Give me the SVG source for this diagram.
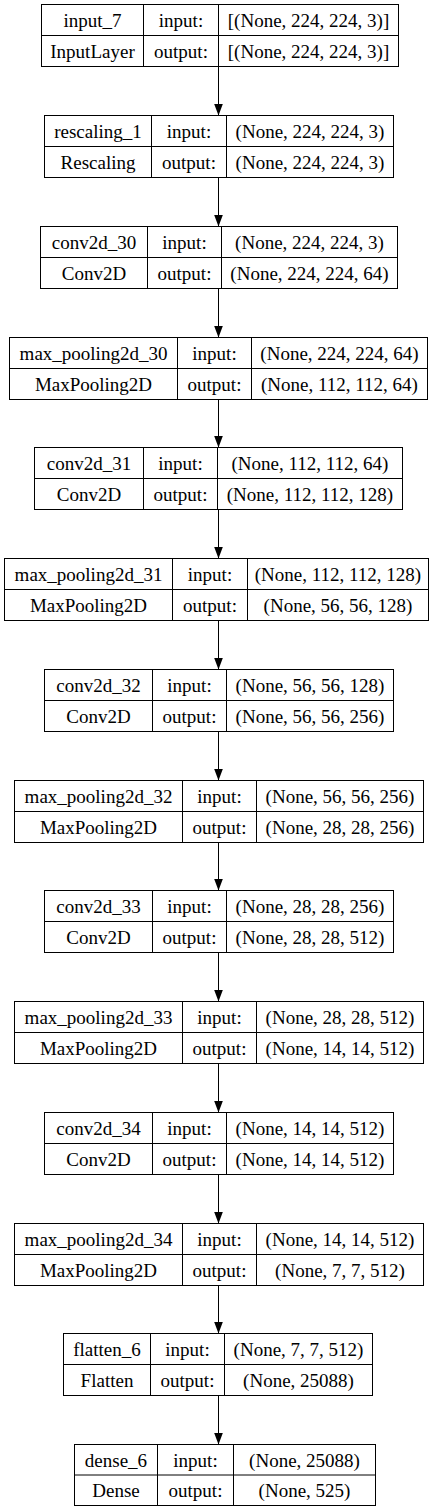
<svg xmlns="http://www.w3.org/2000/svg" width="437" height="1512" viewBox="0 0 437 1512">
<style>
rect.b{fill:#fff;stroke:#000;stroke-width:1}
line.d{stroke:#000;stroke-width:1}
text{font-family:"Liberation Serif","Times New Roman",serif;font-size:19px;fill:#000;text-anchor:middle}
.c line{stroke:#000;stroke-width:1}
</style>
<defs>
<marker id="ah" markerUnits="userSpaceOnUse" markerWidth="12" markerHeight="10" refX="12" refY="4.5" orient="auto">
<path d="M0,0 L12,4.5 L0,9 z" fill="#000"/>
</marker>
</defs>
<rect width="437" height="1512" fill="#fff"/>
<g id="connectors" class="c">
<line x1="218.5" y1="66.5" x2="218.5" y2="115.5" marker-end="url(#ah)"/>
<line x1="218.5" y1="177.5" x2="218.5" y2="226.5" marker-end="url(#ah)"/>
<line x1="218.5" y1="288.5" x2="218.5" y2="337.5" marker-end="url(#ah)"/>
<line x1="218.5" y1="399.5" x2="218.5" y2="447.5" marker-end="url(#ah)"/>
<line x1="218.5" y1="509.5" x2="218.5" y2="558.5" marker-end="url(#ah)"/>
<line x1="218.5" y1="620.5" x2="218.5" y2="669.5" marker-end="url(#ah)"/>
<line x1="218.5" y1="731.5" x2="218.5" y2="780.5" marker-end="url(#ah)"/>
<line x1="218.5" y1="842.5" x2="218.5" y2="890.5" marker-end="url(#ah)"/>
<line x1="218.5" y1="952.5" x2="218.5" y2="1001.5" marker-end="url(#ah)"/>
<line x1="218.5" y1="1063.5" x2="218.5" y2="1112.5" marker-end="url(#ah)"/>
<line x1="218.5" y1="1174.5" x2="218.5" y2="1223.5" marker-end="url(#ah)"/>
<line x1="218.5" y1="1285.5" x2="218.5" y2="1333.5" marker-end="url(#ah)"/>
<line x1="218.5" y1="1395.5" x2="218.5" y2="1444.5" marker-end="url(#ah)"/>
</g>
<g id="input_7" transform="translate(0,4.5)">
<rect class="b" x="41.5" y="0" width="357" height="62"/>
<line class="d" x1="41.5" y1="31" x2="398.5" y2="31"/>
<line class="d" x1="143.5" y1="0" x2="143.5" y2="62"/>
<line class="d" x1="218.5" y1="0" x2="218.5" y2="62"/>
<text x="92.5" y="22">input_7</text><text x="92.5" y="53">InputLayer</text>
<text x="181" y="22">input:</text><text x="181" y="53">output:</text>
<text x="308.5" y="22">[(None, 224, 224, 3)]</text><text x="308.5" y="53">[(None, 224, 224, 3)]</text>
</g>
<g id="rescaling_1" transform="translate(0,115.5)">
<rect class="b" x="44.5" y="0" width="349" height="62"/>
<line class="d" x1="44.5" y1="31" x2="393.5" y2="31"/>
<line class="d" x1="151.5" y1="0" x2="151.5" y2="62"/>
<line class="d" x1="226.5" y1="0" x2="226.5" y2="62"/>
<text x="98" y="22">rescaling_1</text><text x="98" y="53">Rescaling</text>
<text x="189" y="22">input:</text><text x="189" y="53">output:</text>
<text x="310" y="22">(None, 224, 224, 3)</text><text x="310" y="53">(None, 224, 224, 3)</text>
</g>
<g id="conv2d_30" transform="translate(0,226.5)">
<rect class="b" x="40.5" y="0" width="357" height="62"/>
<line class="d" x1="40.5" y1="31" x2="397.5" y2="31"/>
<line class="d" x1="147.5" y1="0" x2="147.5" y2="62"/>
<line class="d" x1="221.5" y1="0" x2="221.5" y2="62"/>
<text x="94" y="22">conv2d_30</text><text x="94" y="53">Conv2D</text>
<text x="184.5" y="22">input:</text><text x="184.5" y="53">output:</text>
<text x="309.5" y="22">(None, 224, 224, 3)</text><text x="309.5" y="53">(None, 224, 224, 64)</text>
</g>
<g id="max_pooling2d_30" transform="translate(0,337.5)">
<rect class="b" x="9.5" y="0" width="418" height="62"/>
<line class="d" x1="9.5" y1="31" x2="427.5" y2="31"/>
<line class="d" x1="177.5" y1="0" x2="177.5" y2="62"/>
<line class="d" x1="251.5" y1="0" x2="251.5" y2="62"/>
<text x="93.5" y="22">max_pooling2d_30</text><text x="93.5" y="53">MaxPooling2D</text>
<text x="214.5" y="22">input:</text><text x="214.5" y="53">output:</text>
<text x="339.5" y="22">(None, 224, 224, 64)</text><text x="339.5" y="53">(None, 112, 112, 64)</text>
</g>
<g id="conv2d_31" transform="translate(0,447.5)">
<rect class="b" x="34.5" y="0" width="368" height="62"/>
<line class="d" x1="34.5" y1="31" x2="402.5" y2="31"/>
<line class="d" x1="143.5" y1="0" x2="143.5" y2="62"/>
<line class="d" x1="217.5" y1="0" x2="217.5" y2="62"/>
<text x="89" y="22">conv2d_31</text><text x="89" y="53">Conv2D</text>
<text x="180.5" y="22">input:</text><text x="180.5" y="53">output:</text>
<text x="310" y="22">(None, 112, 112, 64)</text><text x="310" y="53">(None, 112, 112, 128)</text>
</g>
<g id="max_pooling2d_31" transform="translate(0,558.5)">
<rect class="b" x="4.5" y="0" width="424" height="62"/>
<line class="d" x1="4.5" y1="31" x2="428.5" y2="31"/>
<line class="d" x1="172.5" y1="0" x2="172.5" y2="62"/>
<line class="d" x1="247.5" y1="0" x2="247.5" y2="62"/>
<text x="88.5" y="22">max_pooling2d_31</text><text x="88.5" y="53">MaxPooling2D</text>
<text x="210" y="22">input:</text><text x="210" y="53">output:</text>
<text x="338" y="22">(None, 112, 112, 128)</text><text x="338" y="53">(None, 56, 56, 128)</text>
</g>
<g id="conv2d_32" transform="translate(0,669.5)">
<rect class="b" x="44.5" y="0" width="349" height="62"/>
<line class="d" x1="44.5" y1="31" x2="393.5" y2="31"/>
<line class="d" x1="152.5" y1="0" x2="152.5" y2="62"/>
<line class="d" x1="226.5" y1="0" x2="226.5" y2="62"/>
<text x="98.5" y="22">conv2d_32</text><text x="98.5" y="53">Conv2D</text>
<text x="189.5" y="22">input:</text><text x="189.5" y="53">output:</text>
<text x="310" y="22">(None, 56, 56, 128)</text><text x="310" y="53">(None, 56, 56, 256)</text>
</g>
<g id="max_pooling2d_32" transform="translate(0,780.5)">
<rect class="b" x="14.5" y="0" width="409" height="62"/>
<line class="d" x1="14.5" y1="31" x2="423.5" y2="31"/>
<line class="d" x1="182.5" y1="0" x2="182.5" y2="62"/>
<line class="d" x1="256.5" y1="0" x2="256.5" y2="62"/>
<text x="98.5" y="22">max_pooling2d_32</text><text x="98.5" y="53">MaxPooling2D</text>
<text x="219.5" y="22">input:</text><text x="219.5" y="53">output:</text>
<text x="340" y="22">(None, 56, 56, 256)</text><text x="340" y="53">(None, 28, 28, 256)</text>
</g>
<g id="conv2d_33" transform="translate(0,890.5)">
<rect class="b" x="44.5" y="0" width="349" height="62"/>
<line class="d" x1="44.5" y1="31" x2="393.5" y2="31"/>
<line class="d" x1="152.5" y1="0" x2="152.5" y2="62"/>
<line class="d" x1="226.5" y1="0" x2="226.5" y2="62"/>
<text x="98.5" y="22">conv2d_33</text><text x="98.5" y="53">Conv2D</text>
<text x="189.5" y="22">input:</text><text x="189.5" y="53">output:</text>
<text x="310" y="22">(None, 28, 28, 256)</text><text x="310" y="53">(None, 28, 28, 512)</text>
</g>
<g id="max_pooling2d_33" transform="translate(0,1001.5)">
<rect class="b" x="14.5" y="0" width="409" height="62"/>
<line class="d" x1="14.5" y1="31" x2="423.5" y2="31"/>
<line class="d" x1="182.5" y1="0" x2="182.5" y2="62"/>
<line class="d" x1="256.5" y1="0" x2="256.5" y2="62"/>
<text x="98.5" y="22">max_pooling2d_33</text><text x="98.5" y="53">MaxPooling2D</text>
<text x="219.5" y="22">input:</text><text x="219.5" y="53">output:</text>
<text x="340" y="22">(None, 28, 28, 512)</text><text x="340" y="53">(None, 14, 14, 512)</text>
</g>
<g id="conv2d_34" transform="translate(0,1112.5)">
<rect class="b" x="44.5" y="0" width="349" height="62"/>
<line class="d" x1="44.5" y1="31" x2="393.5" y2="31"/>
<line class="d" x1="152.5" y1="0" x2="152.5" y2="62"/>
<line class="d" x1="226.5" y1="0" x2="226.5" y2="62"/>
<text x="98.5" y="22">conv2d_34</text><text x="98.5" y="53">Conv2D</text>
<text x="189.5" y="22">input:</text><text x="189.5" y="53">output:</text>
<text x="310" y="22">(None, 14, 14, 512)</text><text x="310" y="53">(None, 14, 14, 512)</text>
</g>
<g id="max_pooling2d_34" transform="translate(0,1223.5)">
<rect class="b" x="14.5" y="0" width="409" height="62"/>
<line class="d" x1="14.5" y1="31" x2="423.5" y2="31"/>
<line class="d" x1="182.5" y1="0" x2="182.5" y2="62"/>
<line class="d" x1="256.5" y1="0" x2="256.5" y2="62"/>
<text x="98.5" y="22">max_pooling2d_34</text><text x="98.5" y="53">MaxPooling2D</text>
<text x="219.5" y="22">input:</text><text x="219.5" y="53">output:</text>
<text x="340" y="22">(None, 14, 14, 512)</text><text x="340" y="53">(None, 7, 7, 512)</text>
</g>
<g id="flatten_6" transform="translate(0,1333.5)">
<rect class="b" x="63.5" y="0" width="309" height="62"/>
<line class="d" x1="63.5" y1="31" x2="372.5" y2="31"/>
<line class="d" x1="150.5" y1="0" x2="150.5" y2="62"/>
<line class="d" x1="224.5" y1="0" x2="224.5" y2="62"/>
<text x="107" y="22">flatten_6</text><text x="107" y="53">Flatten</text>
<text x="187.5" y="22">input:</text><text x="187.5" y="53">output:</text>
<text x="298.5" y="22">(None, 7, 7, 512)</text><text x="298.5" y="53">(None, 25088)</text>
</g>
<g id="dense_6" transform="translate(0,1444.5)">
<rect class="b" x="74.5" y="0" width="301" height="61"/>
<line class="d" x1="74.5" y1="30.5" x2="375.5" y2="30.5"/>
<line class="d" x1="157.5" y1="0" x2="157.5" y2="61"/>
<line class="d" x1="233.5" y1="0" x2="233.5" y2="61"/>
<text x="116" y="22">dense_6</text><text x="116" y="52.5">Dense</text>
<text x="195.5" y="22">input:</text><text x="195.5" y="52.5">output:</text>
<text x="304.5" y="22">(None, 25088)</text><text x="304.5" y="52.5">(None, 525)</text>
</g>
</svg>
